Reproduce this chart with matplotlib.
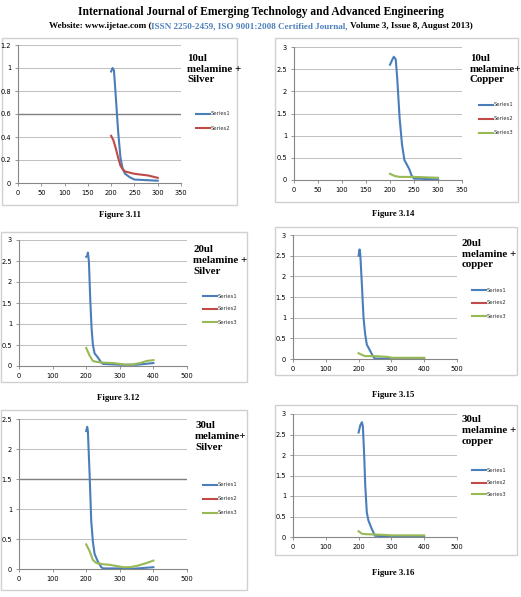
import numpy as np
import matplotlib
matplotlib.use("Agg")
import matplotlib.pyplot as plt
from matplotlib.patches import Rectangle

W, H = 521, 597

BLUE = "#4A7EBB"
RED = "#BE4B48"
GREEN = "#98B954"

# ---- data ----
# fig 3.11: 10ul melamine + silver
s11_x1 = [200, 203, 206, 210, 215, 220, 225, 230, 240, 250, 260, 300]
s11_y1 = [0.97, 1.0, 0.98, 0.75, 0.45, 0.22, 0.12, 0.08, 0.05, 0.03, 0.028, 0.02]
s11_x2 = [200, 205, 210, 215, 220, 225, 230, 240, 250, 260, 280, 300]
s11_y2 = [0.41, 0.37, 0.30, 0.22, 0.15, 0.12, 0.10, 0.09, 0.08, 0.075, 0.065, 0.045]

# fig 3.14: 10ul melamine + copper
s14_x1 = [200, 205, 208, 212, 215, 220, 225, 230, 240, 245, 250, 260, 300]
s14_y1 = [2.6, 2.72, 2.78, 2.72, 2.3, 1.4, 0.8, 0.45, 0.25, 0.1, 0.03, 0.03, 0.01]
s14_x3 = [200, 210, 220, 250, 300]
s14_y3 = [0.14, 0.09, 0.07, 0.07, 0.05]

# fig 3.12: 20ul melamine + silver
s12_x1 = [200, 203, 205, 208, 212, 216, 220, 225, 235, 245, 250, 300, 350, 400]
s12_y1 = [2.6, 2.62, 2.7, 2.5, 1.6, 0.9, 0.5, 0.3, 0.2, 0.08, 0.05, 0.03, 0.03, 0.07]
s12_x3 = [200, 210, 220, 230, 250, 280, 300, 320, 340, 360, 380, 400]
s12_y3 = [0.43, 0.25, 0.12, 0.10, 0.08, 0.07, 0.05, 0.03, 0.04, 0.07, 0.12, 0.14]

# fig 3.15: 20ul melamine + copper
s15_x1 = [200, 203, 205, 210, 215, 220, 225, 235, 245, 250, 300, 400]
s15_y1 = [2.5, 2.65, 2.55, 1.8, 1.0, 0.6, 0.35, 0.2, 0.05, 0.01, 0.01, 0.0]
s15_x3 = [200, 210, 220, 250, 270, 290, 300, 400]
s15_y3 = [0.14, 0.10, 0.07, 0.07, 0.06, 0.05, 0.03, 0.03]

# 30ul melamine + silver
s13_x1 = [200, 203, 205, 210, 215, 220, 225, 235, 245, 250, 300, 330, 400]
s13_y1 = [2.3, 2.37, 2.3, 1.6, 0.8, 0.45, 0.25, 0.12, 0.03, 0.01, 0.01, 0.0, 0.03]
s13_x3 = [200, 210, 220, 230, 250, 270, 290, 310, 330, 350, 380, 400]
s13_y3 = [0.41, 0.30, 0.15, 0.10, 0.08, 0.07, 0.05, 0.03, 0.03, 0.05, 0.10, 0.14]

# fig 3.16: 30ul melamine + copper
s16_x1 = [200, 205, 210, 213, 217, 220, 225, 230, 240, 250, 300, 400]
s16_y1 = [2.55, 2.72, 2.8, 2.7, 2.0, 1.3, 0.6, 0.4, 0.2, 0.03, 0.01, 0.0]
s16_x3 = [200, 210, 220, 250, 280, 300, 400]
s16_y3 = [0.14, 0.08, 0.07, 0.06, 0.05, 0.04, 0.04]


def fbox(x0, y0, x1, y1):
    # pixel box (top-left origin) -> figure fraction rect
    return [x0 / W, 1 - y1 / H, (x1 - x0) / W, (y1 - y0) / H]


fig = plt.figure(figsize=(W / 100, H / 100), dpi=100)
fig.patch.set_facecolor("white")

serif = ["Liberation Serif", "DejaVu Serif"]

# header
fig.text(0.5, 1 - 12 / H, "International Journal of Emerging Technology and Advanced Engineering",
         ha="center", va="center", fontsize=8.3, fontweight="bold", family=serif)
parts = [("Website: www.ijetae.com (", "black"),
         ("ISSN 2250-2459, ISO 9001:2008 Certified Journal,", "#4F81BD"),
         (" Volume 3, Issue 8, August 2013)", "black")]
renderer = fig.canvas.get_renderer()
texts = []
for s, c in parts:
    t = fig.text(0, 1 - 26 / H, s, ha="left", va="center", fontsize=6.6,
                 fontweight="bold", family=serif, color=c)
    texts.append(t)
widths = [t.get_window_extent(renderer).width for t in texts]
x = (W - sum(widths)) / 2
for t, w in zip(texts, widths):
    t.set_x(x / W)
    x += w


def panel(frame, plot, xmax, xstep, ymax, ystep, series, title, title_xy, leg_x, leg_y, dark_y=None):
    fx0, fy0, fx1, fy1 = frame
    fig.patches.append(Rectangle((fx0 / W, 1 - fy1 / H), (fx1 - fx0) / W, (fy1 - fy0) / H,
                                 transform=fig.transFigure, facecolor="none",
                                 edgecolor="#d0d0d0", linewidth=1.0, zorder=-1))
    ax = fig.add_axes(fbox(*plot))
    ax.set_xlim(0, xmax)
    ax.set_ylim(0, ymax)
    ax.set_xticks(np.arange(0, xmax + 1, xstep))
    yt = np.arange(0, ymax + ystep / 2, ystep)
    ax.set_yticks(yt)
    ax.set_yticklabels([("%g" % v) for v in yt])
    ax.patch.set_alpha(0)
    for sp in ["top", "right"]:
        ax.spines[sp].set_visible(False)
    for sp in ["left", "bottom"]:
        ax.spines[sp].set_color("#868686")
        ax.spines[sp].set_linewidth(0.8)
    ax.tick_params(labelsize=4.8, length=2, width=0.6, color="#868686", pad=3)
    for v in yt[1:]:
        if dark_y is not None and abs(v - dark_y) < 1e-6:
            ax.axhline(v, color="#7f7f7f", linewidth=1.0, zorder=1)
        else:
            ax.axhline(v, color="#c0c0c0", linewidth=0.7, zorder=1)
    for i, (xs, ys, col, name) in enumerate(series):
        ax.plot(xs, ys, color=col, linewidth=1.5, zorder=3)
        ly = 1 - (leg_y[i]) / H
        fig.add_artist(plt.Line2D([leg_x / W, (leg_x + 14) / W], [ly, ly], color=col,
                                  linewidth=1.5, transform=fig.transFigure))
        fig.text((leg_x + 14.5) / W, ly, name, fontsize=3.8, va="center", ha="left", color="#333333")
    fig.text(title_xy[0] / W, 1 - title_xy[1] / H, title, fontsize=7.8, fontweight="bold",
             family=serif, va="top", ha="left", linespacing=1.25)
    return ax


def caption(x, y, s):
    fig.text(x / W, 1 - y / H, s, fontsize=6.3, fontweight="bold", family=serif,
             ha="center", va="center")


# Figure 3.11
panel((2, 38, 237, 205), (18, 45, 181, 183), 350, 50, 1.2, 0.2,
      [(s11_x1, s11_y1, BLUE, "Series1"), (s11_x2, s11_y2, RED, "Series2")],
      "10ul\nmelamine +\nSilver", (187, 54), 196, [114, 128], dark_y=0.6)
caption(120, 215, "Figure 3.11")

# Figure 3.14
panel((275, 38, 518, 202), (294, 47, 462, 180), 350, 50, 3, 0.5,
      [(s14_x1, s14_y1, BLUE, "Series1"), ([], [], RED, "Series2"), (s14_x3, s14_y3, GREEN, "Series3")],
      "10ul\nmelamine+\nCopper", (470, 54), 479, [105, 119, 133])
caption(393, 214, "Figure 3.14")

# Figure 3.12
panel((1, 232, 247, 382), (19, 240, 187, 366), 500, 100, 3, 0.5,
      [(s12_x1, s12_y1, BLUE, "Series1"), ([], [], RED, "Series2"), (s12_x3, s12_y3, GREEN, "Series3")],
      "20ul\nmelamine +\nSilver", (193, 245), 203, [296, 309, 322])
caption(118, 398, "Figure 3.12")

# Figure 3.15
panel((275, 227, 517, 375), (293, 235, 457, 359), 500, 100, 3, 0.5,
      [(s15_x1, s15_y1, BLUE, "Series1"), ([], [], RED, "Series2"), (s15_x3, s15_y3, GREEN, "Series3")],
      "20ul\nmelamine +\ncopper", (462, 239), 472, [290, 303, 316])
caption(393, 395, "Figure 3.15")

# 30ul silver (no caption)
panel((1, 410, 247, 590), (19, 419, 187, 569), 500, 100, 2.5, 0.5,
      [(s13_x1, s13_y1, BLUE, "Series1"), ([], [], RED, "Series2"), (s13_x3, s13_y3, GREEN, "Series3")],
      "30ul\nmelamine+\nSilver", (195, 421), 203, [485, 499, 513], dark_y=1.5)

# Figure 3.16
panel((275, 405, 517, 555), (293, 414, 457, 537), 500, 100, 3, 0.5,
      [(s16_x1, s16_y1, BLUE, "Series1"), ([], [], RED, "Series2"), (s16_x3, s16_y3, GREEN, "Series3")],
      "30ul\nmelamine +\ncopper", (462, 415), 472, [470, 483, 494])
caption(393, 573, "Figure 3.16")

fig.savefig("out.png", dpi=100)
